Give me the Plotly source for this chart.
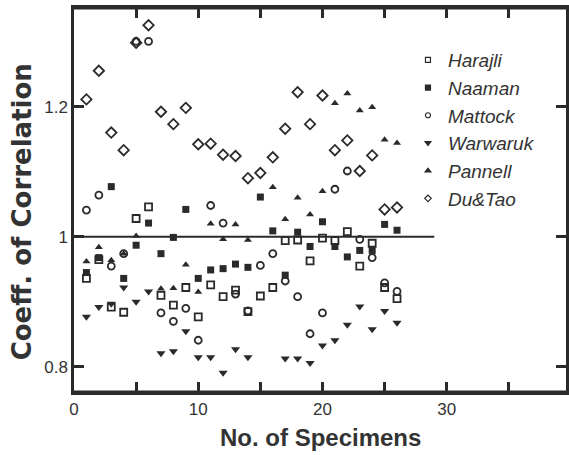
import plotly.graph_objects as go

specimens = list(range(1, 27))

harajli = [0.936, 0.965, 0.892, 0.884, 1.028, 1.046, 0.910, 0.895, 0.922, 0.877,
           0.926, 0.908, 0.918, 0.885, 0.909, 0.922, 0.994, 0.995, 0.963, 0.998,
           0.994, 1.008, 0.955, 0.990, 0.922, 0.905]
naaman = [0.945, 0.968, 1.077, 0.936, 0.987, 1.021, 0.974, 0.999, 1.042, 0.936,
          0.949, 0.951, 0.958, 0.953, 1.061, 1.009, 0.941, 1.007, 0.985, 1.023,
          0.985, 0.969, 0.979, 0.979, 1.019, 1.010]
mattock = [1.041, 1.064, 0.955, 0.974, 1.300, 1.300, 0.883, 0.870, 0.890, 0.841,
           1.048, 1.021, 0.912, 0.886, 0.956, 0.974, 0.932, 0.908, 0.851, 0.883,
           1.073, 1.101, 0.996, 0.968, 0.929, 0.916]
warwaruk = [0.877, 0.892, 0.897, 0.922, 0.900, 0.916, 0.821, 0.824, 0.855, 0.815,
            0.815, 0.791, 0.827, 0.815, None, None, 0.813, 0.813, 0.806, 0.833,
            0.841, 0.865, 0.893, 0.858, 0.886, 0.868]
pannell = [0.962, 0.984, 0.964, 0.974, 1.001, None, 0.920, 0.921, 0.957, 0.915,
           1.020, 0.996, 1.019, 0.995, None, 1.076, 1.027, 1.060, 1.034, 1.070,
           1.205, 1.220, 1.194, 1.199, 1.149, 1.144]
du_tao = [1.211, 1.255, 1.160, 1.133, 1.298, 1.325, 1.192, 1.173, 1.198, 1.142,
          1.143, 1.126, 1.124, 1.090, 1.098, 1.122, 1.166, 1.222, 1.173, 1.217,
          1.133, 1.148, 1.101, 1.125, 1.042, 1.045]

series_names = ["Harajli", "Naaman", "Mattock", "Warwaruk", "Pannell", "Du&Tao"]
series_values = [harajli, naaman, mattock, warwaruk, pannell, du_tao]

ref_x = [0, 29]
ref_y = [1, 1]

x_tickvals = [0, 5, 10, 15, 20, 25, 30, 35]
x_ticktext = ["0", "", "10", "", "20", "", "30", ""]
y_tickvals = [0.8, 1.0, 1.2]
y_ticktext = ["0.8", "1", "1.2"]

INK = "#2a2a2a"
TXT = "#333333"
SANS = "Liberation Sans, Arial, sans-serif"

styles = {
    "Harajli": dict(symbol="square-open", size=7, line=dict(width=1.8, color=INK), color=INK),
    "Naaman": dict(symbol="square", size=7, line=dict(width=0, color=INK), color=INK),
    "Mattock": dict(symbol="circle-open", size=7, line=dict(width=1.8, color=INK), color=INK),
    "Warwaruk": dict(symbol="triangle-down", size=8, line=dict(width=0, color=INK), color=INK),
    "Pannell": dict(symbol="triangle-up", size=7, line=dict(width=0, color=INK), color=INK),
    "Du&Tao": dict(symbol="diamond-open", size=8, line=dict(width=1.8, color=INK), color=INK),
}

fig = go.Figure()

fig.add_trace(go.Scatter(x=ref_x, y=ref_y, mode="lines",
                         line=dict(color=INK, width=2), showlegend=False,
                         hoverinfo="skip"))

for name, vals in zip(series_names, series_values):
    fig.add_trace(go.Scatter(x=specimens, y=vals, mode="markers", name=name,
                             marker=styles[name], showlegend=False, cliponaxis=False))

for name in series_names:
    st = dict(styles[name])
    st["size"] = 5
    st["line"] = dict(width=1.2, color=INK)
    fig.add_trace(go.Scatter(x=[None], y=[None], mode="markers", name=name,
                             legendgroup=name, marker=st, showlegend=True))

axis_common = dict(showline=True, linewidth=2.5, linecolor=INK, mirror="allticks",
                   ticks="inside", ticklen=10, tickwidth=2.5, tickcolor=INK,
                   showgrid=False, zeroline=False, layer="above traces",
                   tickfont=dict(family=SANS, size=17, color=TXT))

fig.update_xaxes(range=[0, 39.6], tickvals=x_tickvals, ticktext=x_ticktext,
                 **axis_common)
fig.update_yaxes(range=[0.7615, 1.3514], tickvals=y_tickvals,
                 ticktext=y_ticktext, **axis_common)

# plot frame edges (paper space)
for y_edge in (0, 1):
    fig.add_shape(type="line", xref="paper", yref="paper", x0=0, x1=1,
                  y0=y_edge, y1=y_edge, line=dict(color=INK, width=3), layer="above")

fig.update_layout(
    width=569, height=455,
    margin=dict(l=74, r=0, t=8, b=63),
    paper_bgcolor="white", plot_bgcolor="white",
    legend=dict(x=(410 - 74) / 495, y=1 - (41 - 8) / 384, xanchor="left", yanchor="top",
                bgcolor="rgba(0,0,0,0)", borderwidth=0, tracegroupgap=0,
                font=dict(family=SANS, size=19, color=TXT, style="italic")),
    annotations=[
        dict(text="No. of Specimens", xref="paper", yref="paper",
             x=(322 - 74) / 495, y=-(437 - 391.7) / 383.4, showarrow=False,
             xanchor="center", yanchor="middle",
             font=dict(family=SANS, size=24, color=TXT, weight="bold")),
        dict(text="Coeff. of Correlation", xref="paper", yref="paper",
             x=(22 - 74) / 495, y=(391.7 - 212) / 383.4, showarrow=False,
             xanchor="center", yanchor="middle", textangle=-90,
             font=dict(family="DejaVu Sans, sans-serif", size=26, color=TXT, weight="bold")),
    ],
)

fig.write_html("out.html")
